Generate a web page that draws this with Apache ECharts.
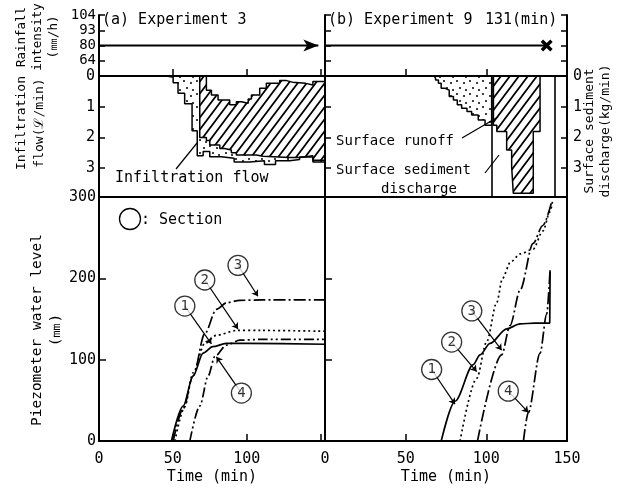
<!DOCTYPE html>
<html>
<head>
<meta charset="utf-8">
<script src="https://cdn.jsdelivr.net/npm/echarts@6/dist/echarts.min.js"></script>
<style>
html, body { margin: 0; padding: 0; background: #fff; }
#chart { width: 626px; height: 492px; }
</style>
</head>
<body>
<div id="chart"></div>
<script>
// rainfall intensity (mm/h), uneven tick labels of the top panels
const rainTicks = ['0', '64', '80', '93', '104'];
const rainLevel = '80';
const rainEnd3 = 148.5;  // still raining at the end (arrow)
const rainEnd9 = 137.4;  // stopped (x)

// (a) Experiment 3, flows (L/min), read as steps [time, value]
const exp3Infiltration = [[45.7, 0], [45.7, 0.04], [50.2, 0.22], [53.5, 0.56], [58, 0.9], [63, 1.78], [66.5, 2.6], [70.5, 2.46], [75, 2.63], [82.9, 2.68], [91.5, 2.8], [102, 2.76], [112, 2.88], [119.5, 2.76], [129, 2.72], [135.8, 2.64], [144.8, 2.8], [153, 2.8]];
const exp3RunoffBottom = [[68.2, 0], [68.2, 2.0], [72.7, 2.1], [75, 2.25], [81.8, 2.36], [85, 2.41], [89.6, 2.5], [93, 2.57], [106.5, 2.61], [111, 2.65], [129, 2.65], [135.8, 2.6], [144.8, 2.74], [153, 2.74]];
const exp3RunoffTop = [[68.2, 0], [72.7, 0.46], [76.1, 0.62], [80.6, 0.78], [88.5, 0.94], [93, 0.84], [96.4, 0.89], [101, 0.75], [103.2, 0.62], [108.8, 0.4], [113.3, 0.24], [122.3, 0.15], [127, 0.2], [131, 0.24], [140, 0.29], [144.8, 0.18], [153, 0.18]];

// (b) Experiment 9
const exp9Infiltration = [[67.2, 0], [67.2, 0.05], [68.5, 0.13], [70.3, 0.24], [72, 0.4], [74.4, 0.46], [77, 0.67], [79.6, 0.78], [82, 0.94], [84.7, 1.05], [88, 1.16], [90.9, 1.27], [95, 1.43], [99.2, 1.6], [103.3, 0]];
const exp9RunoffSediment = [[104.4, 0], [104.4, 1.6], [106.5, 1.81], [112.6, 2.41], [115.7, 2.95], [116.7, 3.82], [129.1, 1.81], [133.3, 0]];
const exp9Marks = [103.3, 142.6];

// piezometer water level (mm) by section
const exp3Sec1 = [[49, 0], [57, 43], [63.7, 80], [70.5, 108], [77, 116], [86, 120], [100, 120], [153, 119]];
const exp3Sec2 = [[51.4, 0], [58, 42], [63.7, 84], [71.6, 120], [79.5, 130], [93, 136], [110, 136], [153, 135]];
const exp3Sec3 = [[50.2, 0], [57, 40], [63.7, 80], [71.6, 132], [79.5, 162], [86.3, 170], [95.3, 173], [110, 173.5], [153, 173.5]];
const exp3Sec4 = [[61.5, 0], [68.2, 43], [73.9, 80], [78.4, 104], [86.3, 118], [95.3, 124], [110, 125], [153, 125]];

const exp9Sec1 = [[72, 0], [80.6, 49], [91.9, 94], [96.1, 106], [102.3, 120], [112.6, 138], [120.9, 144], [130, 145], [139.3, 145], [139.5, 210]];
const exp9Sec2 = [[83.7, 0], [94, 77], [100.2, 122], [106.4, 170], [110, 200], [115, 220], [121, 230], [129, 236], [135, 258], [139.5, 282], [141, 294]];
const exp9Sec3 = [[94.5, 0], [109.5, 106], [114.7, 142], [121, 186], [129, 243], [135, 265], [140.5, 294]];
const exp9Sec4 = [[123, 0], [126, 35], [133.3, 108], [137.4, 156], [139.5, 210]];

// section markers [time, level, number] and where their pointers end
const exp3Labels = [[58.1, 166, '1'], [71.6, 198, '2'], [94.1, 216, '3'], [96.4, 59, '4']];
const exp3Tips = [[76.1, 119.6], [94.1, 137.7], [107.6, 178], [79.5, 103.6]];
const exp9Labels = [[66.1, 88, '1'], [78.5, 121.7, '2'], [91, 160, '3'], [113.6, 61.4, '4']];
const exp9Tips = [[80.6, 45.4], [94, 85.5], [109.5, 111.7], [126, 35.3]];

const timeTicks3 = [0, 50, 100];
const timeTicks9 = [0, 50, 100, 150];

const FONT = '"DejaVu Sans Mono", monospace';

function hatch(bg) {
  const c = document.createElement('canvas');
  c.width = 9; c.height = 12;
  const g = c.getContext('2d');
  if (bg) { g.fillStyle = bg; g.fillRect(0, 0, 9, 12); }
  g.strokeStyle = '#000';
  g.lineWidth = 1.7;
  g.beginPath();
  [-9, 0, 9].forEach(function (dx) {
    g.moveTo(dx - 0.75, 13);
    g.lineTo(dx + 9.75, -1);
  });
  g.stroke();
  return c;
}

function dots() {
  const c = document.createElement('canvas');
  c.width = 13; c.height = 13;
  const g = c.getContext('2d');
  g.fillStyle = '#000';
  [[2, 3], [9, 5], [5, 10], [11, 12]].forEach(function (p) {
    g.beginPath();
    g.arc(p[0], p[1], 1, 0, Math.PI * 2);
    g.fill();
  });
  return c;
}

const hatchFill = { image: hatch('#fff'), repeat: 'repeat' };
const hatchClear = { image: hatch(null), repeat: 'repeat' };
const dotFill = { image: dots(), repeat: 'repeat' };

const black = '#000';
const tickStyle = { color: black, width: 1.5 };
const lineAxis = { show: true, onZero: false, lineStyle: { color: black, width: 2 } };

function xAxisOf(grid, max, ticks) {
  return {
    type: 'value', gridIndex: grid, min: 0, max: max, interval: 50, z: 11,
    show: ticks !== null,
    splitLine: { show: false },
    axisLine: lineAxis,
    axisTick: { show: true, inside: true, length: 7, lineStyle: tickStyle },
    axisLabel: {
      show: !!ticks, color: black, fontFamily: FONT, fontSize: 15, margin: 11,
      formatter: function (v) { return ticks && ticks.indexOf(v) >= 0 ? String(v) : ''; }
    },
    name: ticks ? 'Time (min)' : '',
    nameLocation: 'middle', nameGap: 29,
    nameTextStyle: { color: black, fontFamily: FONT, fontSize: 15 }
  };
}

function flowAxis(grid, pos, showLabels) {
  return {
    type: 'value', gridIndex: grid, position: pos, inverse: true, min: 0, max: 3.94, interval: 1, z: 11,
    splitLine: { show: false },
    axisLine: lineAxis,
    axisTick: { show: true, inside: true, length: 6, lineStyle: tickStyle },
    axisLabel: {
      show: showLabels, color: black, fontFamily: FONT, fontSize: 15, margin: pos === 'right' ? 6 : 4,
      formatter: function (v) { return v % 1 === 0 ? String(v) : ''; }
    }
  };
}

function levelAxis(grid, showLabels) {
  return {
    type: 'value', gridIndex: grid, min: 0, max: 300, interval: 100, z: 11,
    splitLine: { show: false },
    axisLine: lineAxis,
    axisTick: { show: true, inside: true, length: 7, lineStyle: tickStyle },
    axisLabel: { show: showLabels, color: black, fontFamily: FONT, fontSize: 15, margin: 3 }
  };
}

function rainAxis(grid, pos, showLabels) {
  return {
    type: 'category', gridIndex: grid, position: pos, data: rainTicks, boundaryGap: false, z: 11,
    axisLine: lineAxis,
    axisTick: { show: true, inside: true, length: 6, interval: 0, lineStyle: tickStyle },
    axisLabel: {
      show: showLabels, interval: 0, color: black, fontFamily: FONT, fontSize: 14, margin: 3,
      formatter: function (v) { return v === '0' ? '' : v; }
    },
    splitLine: { show: false }
  };
}

function boxGrid(left, top, width, height, box) {
  return {
    left: left, top: top, width: width, height: height, z: 10,
    show: box, borderColor: black, borderWidth: 2, backgroundColor: 'transparent'
  };
}

function stepArea(name, xi, yi, data, fill) {
  return {
    name: name, type: 'line', step: 'end', xAxisIndex: xi, yAxisIndex: yi, data: data,
    symbol: 'none', silent: true, animation: false,
    lineStyle: { color: black, width: 1.5 },
    areaStyle: fill ? { color: fill, opacity: 1 } : undefined
  };
}

function section(name, xi, yi, data, type) {
  return {
    name: name, type: 'line', xAxisIndex: xi, yAxisIndex: yi, data: data,
    smooth: 0.3, smoothMonotone: 'x', symbol: 'none', silent: true, animation: false,
    lineStyle: { color: black, width: 1.7, type: type }
  };
}

function markers(name, xi, yi, labels, tips) {
  return {
    name: name, type: 'scatter', xAxisIndex: xi, yAxisIndex: yi, z: 10,
    data: labels, symbol: 'circle', symbolSize: 20, silent: true, animation: false,
    itemStyle: { color: '#fff', borderColor: black, borderWidth: 1.3 },
    label: {
      show: true, position: 'inside', color: black, fontFamily: FONT, fontSize: 14,
      formatter: function (p) { return p.value[2]; }
    },
    markLine: {
      silent: true, animation: false, z: 5,
      symbol: ['none', 'arrow'], symbolSize: 6,
      label: { show: false },
      lineStyle: { color: black, width: 1.2, type: 'solid' },
      data: labels.map(function (l, i) {
        return [{ coord: [l[0], l[1]] }, { coord: tips[i] }];
      })
    }
  };
}

function text(str, x, y, size) {
  return {
    type: 'text', x: x, y: y, z: 20,
    style: { text: str, fill: black, font: size + 'px ' + FONT, align: 'left', verticalAlign: 'middle' }
  };
}

function vtext(str, x, y, size, lh) {
  return {
    type: 'text', x: x, y: y, rotation: Math.PI / 2, z: 20,
    style: { text: str, fill: black, font: size + 'px ' + FONT, align: 'center', verticalAlign: 'middle', lineHeight: lh }
  };
}

function seg(x1, y1, x2, y2) {
  return { type: 'line', z: 20, shape: { x1: x1, y1: y1, x2: x2, y2: y2 }, style: { stroke: black, lineWidth: 1.2 } };
}

const option = {
  backgroundColor: '#fff',
  animation: false,
  grid: [
    boxGrid(99, 15, 226, 61, false),
    boxGrid(99, 76, 226, 121, true),
    boxGrid(99, 197, 226, 249, true),
    boxGrid(325, 15, 242, 61, false),
    boxGrid(325, 76, 242, 121, true),
    boxGrid(325, 197, 242, 249, true)
  ],
  xAxis: [
    xAxisOf(0, 153, false),
    xAxisOf(1, 153, null),
    xAxisOf(2, 153, timeTicks3),
    xAxisOf(3, 150, false),
    xAxisOf(4, 150, null),
    xAxisOf(5, 150, timeTicks9)
  ],
  yAxis: [
    rainAxis(0, 'left', true),
    flowAxis(1, 'left', true),
    levelAxis(2, true),
    rainAxis(3, 'left', false),
    rainAxis(3, 'right', false),
    flowAxis(4, 'left', false),
    flowAxis(4, 'right', true),
    levelAxis(5, false)
  ],
  series: [
    {
      name: 'Rainfall (a)', type: 'line', xAxisIndex: 0, yAxisIndex: 0, symbol: 'none', showSymbol: true,
      lineStyle: { color: black, width: 2 }, itemStyle: { color: black }, silent: true,
      data: [[0, rainLevel], { value: [rainEnd3, rainLevel], symbol: 'arrow', symbolSize: [9, 15], symbolRotate: -90 }]
    },
    {
      name: 'Rainfall (b)', type: 'line', xAxisIndex: 3, yAxisIndex: 3, symbol: 'none',
      lineStyle: { color: black, width: 2 }, silent: true,
      data: [[0, rainLevel], [rainEnd9, rainLevel]]
    },
    {
      name: 'Rain stop (b)', type: 'scatter', xAxisIndex: 3, yAxisIndex: 3, z: 6, silent: true,
      symbol: 'path://M0,2L2,0L5,3L8,0L10,2L7,5L10,8L8,10L5,7L2,10L0,8L3,5Z', symbolSize: 12,
      itemStyle: { color: black, opacity: 1 },
      data: [[rainEnd9, rainLevel]]
    },
    stepArea('Infiltration flow (a)', 1, 1, exp3Infiltration, dotFill),
    stepArea('Surface runoff (a)', 1, 1, exp3RunoffBottom, hatchFill),
    stepArea('Runoff upper edge (a)', 1, 1, exp3RunoffTop, '#fff'),
    Object.assign(stepArea('Infiltration flow (b)', 4, 5, exp9Infiltration, dotFill), {
      markLine: {
        silent: true, animation: false, symbol: 'none', label: { show: false },
        lineStyle: { color: black, width: 1.6, type: 'solid' },
        data: exp9Marks.map(function (t) { return { xAxis: t }; })
      }
    }),
    stepArea('Surface runoff / sediment discharge (b)', 4, 5, exp9RunoffSediment, hatchClear),
    section('Section 1 (a)', 2, 2, exp3Sec1, 'solid'),
    section('Section 2 (a)', 2, 2, exp3Sec2, [2, 3]),
    section('Section 3 (a)', 2, 2, exp3Sec3, [12, 3, 2, 3]),
    section('Section 4 (a)', 2, 2, exp3Sec4, [10, 3, 2, 3, 2, 3]),
    section('Section 1 (b)', 5, 7, exp9Sec1, 'solid'),
    section('Section 2 (b)', 5, 7, exp9Sec2, [2, 3]),
    section('Section 3 (b)', 5, 7, exp9Sec3, [12, 3, 2, 3]),
    section('Section 4 (b)', 5, 7, exp9Sec4, [12, 3, 2, 3]),
    markers('Sections (a)', 2, 2, exp3Labels, exp3Tips),
    markers('Sections (b)', 5, 7, exp9Labels, exp9Tips)
  ],
  graphic: [
    text('(a) Experiment 3', 102, 20, 15),
    text('(b) Experiment 9', 328, 20, 15),
    text('131(min)', 485, 20, 15),
    text('Infiltration flow', 115, 178, 15),
    seg(176, 169, 197, 143),
    text('Surface runoff', 336, 141, 14),
    seg(462, 138, 498, 117),
    text('Surface sediment', 336, 170, 14),
    text('discharge', 381, 189, 14),
    seg(485, 173, 499, 155),
    { type: 'circle', z: 20, shape: { cx: 130, cy: 219, r: 10.5 }, style: { fill: 'none', stroke: black, lineWidth: 1.3 } },
    text(': Section', 141, 220, 15),
    vtext('Rainfall\nintensity\n(㎜/h)', 38, 37, 12.5, 16),
    vtext('Infiltration\nflow(ℒ/min)', 31, 123, 13, 18),
    vtext('Piezometer water level\n(㎜)', 47, 330, 14.5, 19),
    vtext('Surface sediment\ndischarge(kg/min)', 598, 131, 13, 16)
  ]
};

const chart = echarts.init(document.getElementById('chart'));
chart.setOption(option);
</script>
</body>
</html>
